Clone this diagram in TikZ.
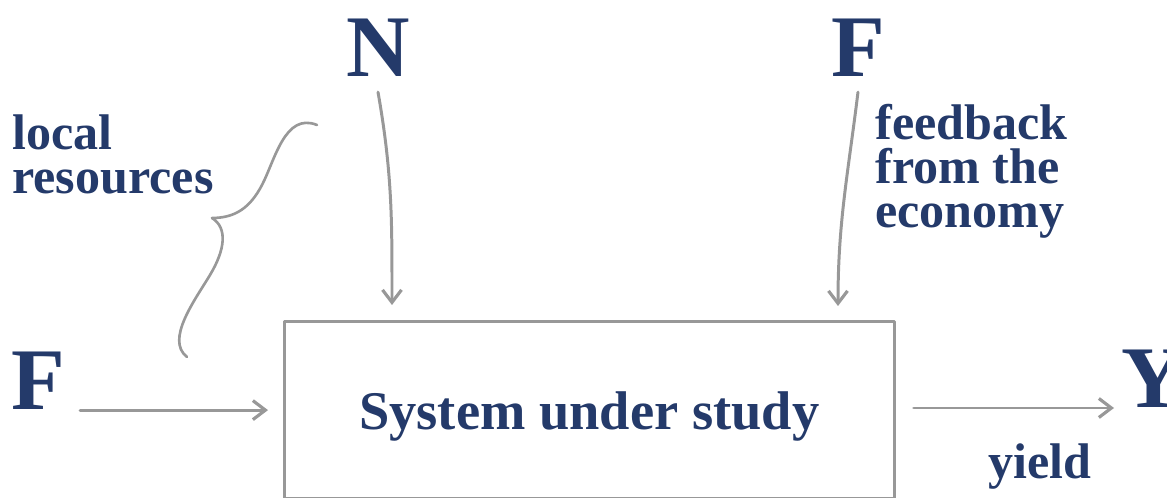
\documentclass[tikz,border=0pt]{standalone}
\usepackage{fontspec}
\setmainfont{Liberation Serif}
\usepackage{tikz}
\usetikzlibrary{arrows.meta,calc,positioning}
\definecolor{labelnavy}{RGB}{36,58,106}
\definecolor{flowgray}{RGB}{152,152,152}

\begin{document}
\begin{tikzpicture}[line cap=round, line join=round,
    flow/.style={flowgray, line width=1.7pt,
      -{Straight Barb[length=2.5mm,width=3.8mm,line width=1.8pt]}},
    bigletter/.style={labelnavy, inner sep=0pt,
      font=\fontsize{50}{50}\selectfont\bfseries},
    note/.style={labelnavy, inner sep=0pt, align=left,
      font=\fontsize{28.5}{25}\selectfont\bfseries}]
  \useasboundingbox (0,0) rectangle (23.34,9.96);

  % The system box runs down to the lower edge of the picture.
  \node[draw=flowgray, line width=1.5pt, minimum width=12.2cm,
    minimum height=3.54cm, anchor=north west]
    (sys) at (5.66,3.56) {};
  \node[text=labelnavy, inner sep=0pt,
    font=\fontsize{31}{31}\selectfont\bfseries]
    (sysname) at ([yshift=-1.4mm]sys.center) {System under study};

  % Inputs and output.
  \node[bigletter] (Ntop) at (7.56,9.0) {N};
  \node[bigletter] (Ftop) at (17.16,9.0) {F};
  \node[bigletter] (Fleft) at (0.76,2.34) {F};
  \node[bigletter, anchor=south west] (Yout) at (22.42,1.80) {Y};

  \node[note, anchor=north west] (local) at (0.24,7.68)
    {local\\resources};
  \node[note, anchor=north west] (econ) at (17.5,7.88)
    {feedback\\from the\\economy};
  \node[note] (yield) at (20.8,0.62) {yield};

  % Arrow tips stop a little short of the box.
  \coordinate (Nin) at (7.84,3.86);
  \coordinate (Fin) at (16.76,3.84);

  \draw[flow] ([yshift=-3mm]Ntop.south) to[out=-80,in=90] (Nin);
  \draw[flow] ([yshift=-3mm]Ftop.south) to[out=-97,in=90] (Fin);
  \draw[flow, shorten <=3mm, shorten >=3mm]
    (Fleft.south east) -- (sys.west |- Fleft.south east);
  \draw[flow, shorten <=3.6mm, shorten >=1.4mm]
    (sys.east |- Yout.south west) -- (Yout.south west);

  % The brace gathering N and the left F.
  \draw[flowgray, line width=1.5pt]
    (6.34,7.46) .. controls (5.7,7.72) and (5.5,6.76) .. (5.24,6.26)
    .. controls (5.0,5.8) and (4.7,5.6) .. (4.24,5.6)
    .. controls (4.56,5.4) and (4.5,4.96) .. (4.2,4.46)
    .. controls (3.9,3.96) and (3.3,3.16) .. (3.74,2.82);
\end{tikzpicture}
\end{document}
